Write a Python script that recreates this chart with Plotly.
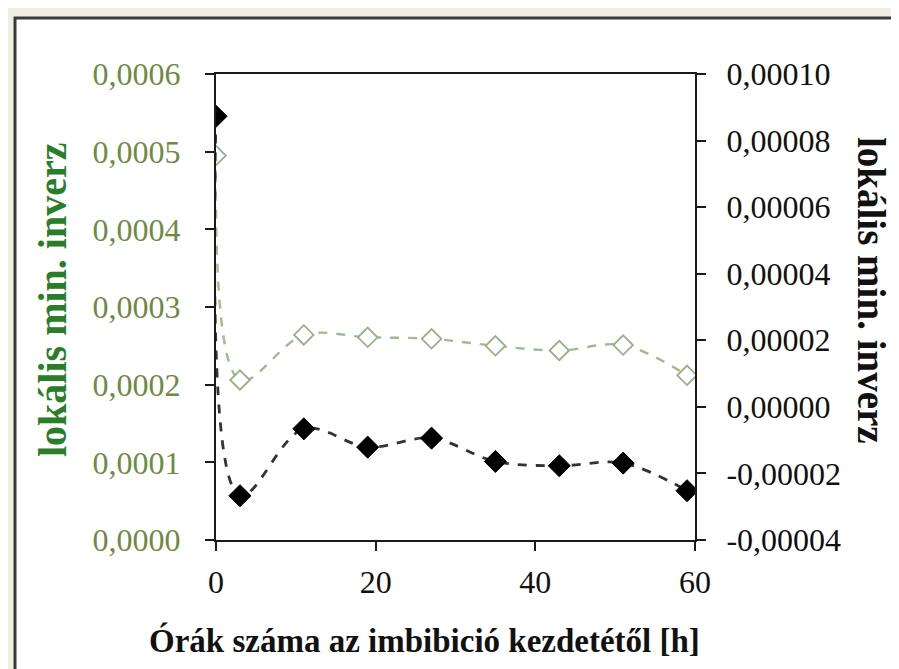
import plotly.graph_objects as go

hours = [0, 3, 11, 19, 27, 35, 43, 51, 59]
green_vals = [0.000495, 0.000206, 0.000264, 0.000261, 0.000259, 0.000250, 0.000244, 0.000251, 0.000212]
black_vals = [0.0000873, -0.0000267, -0.0000066, -0.0000121, -0.0000094, -0.0000164, -0.0000177, -0.0000169, -0.0000252]

x_ticks = [0, 20, 40, 60]
left_ticks = [0.0, 0.0001, 0.0002, 0.0003, 0.0004, 0.0005, 0.0006]
left_labels = ["0,0000", "0,0001", "0,0002", "0,0003", "0,0004", "0,0005", "0,0006"]
right_ticks = [-0.00004, -0.00002, 0.0, 0.00002, 0.00004, 0.00006, 0.00008, 0.00010]
right_labels = ["-0,00004", "-0,00002", "0,00000", "0,00002", "0,00004", "0,00006", "0,00008", "0,00010"]

x_title = "Órák száma az imbibició kezdetétől [h]"
y_title = "lokális min. inverz"

FONT = "Liberation Serif"

fig = go.Figure()
fig.add_trace(go.Scatter(
    x=hours, y=green_vals, mode="lines+markers", yaxis="y",
    line=dict(color="#a3b894", width=2.4, dash="dash", shape="spline", smoothing=1),
    marker=dict(symbol="diamond", size=15, color="white", line=dict(color="#98b088", width=1.8)),
    showlegend=False,
))
fig.add_trace(go.Scatter(
    x=hours, y=black_vals, mode="lines+markers", yaxis="y2",
    line=dict(color="#333333", width=2.8, dash="dash", shape="spline", smoothing=1),
    marker=dict(symbol="diamond", size=17, color="black", line=dict(color="black", width=1)),
    showlegend=False,
))

L, R, T, B = 208, 212, 66, 137
W, H = 899, 669
pw, ph = W - L - R, H - T - B

def px(x):
    return (x - L) / pw

def py(y):
    return (H - B - y) / ph

fig.update_layout(
    width=W, height=H,
    margin=dict(l=L, r=R, t=T, b=B, pad=0),
    paper_bgcolor="#f0eee2",
    plot_bgcolor="rgba(0,0,0,0)",
    font=dict(family=FONT, size=32, color="black"),
    xaxis=dict(
        range=[0, 60], tickvals=x_ticks, ticktext=[str(v) for v in x_ticks],
        showline=True, linecolor="#1a1a1a", linewidth=2, mirror=True,
        ticks="outside", ticklen=9, tickwidth=2, tickcolor="#1a1a1a",
        showgrid=False, zeroline=False, ticklabelstandoff=4,
        tickfont=dict(family=FONT, size=32, color="#111111"),
    ),
    yaxis=dict(
        range=[0, 0.0006], tickvals=left_ticks, ticktext=left_labels,
        showline=True, linecolor="#1a1a1a", linewidth=2,
        ticks="outside", ticklen=9, tickwidth=2, tickcolor="#1a1a1a",
        showgrid=False, zeroline=False, ticklabelstandoff=18,
        tickfont=dict(family=FONT, size=32, color="#6f8a45"),
    ),
    yaxis2=dict(
        range=[-0.00004, 0.0001], tickvals=right_ticks, ticktext=right_labels,
        overlaying="y", side="right", anchor="x",
        showline=True, linecolor="#1a1a1a", linewidth=2,
        ticks="outside", ticklen=9, tickwidth=2, tickcolor="#1a1a1a",
        showgrid=False, zeroline=False, ticklabelstandoff=14,
        tickfont=dict(family=FONT, size=32, color="#111111"),
    ),
    shapes=[dict(
        type="rect", xref="paper", yref="paper", layer="below",
        x0=px(7), x1=px(891), y0=py(685), y1=py(10),
        fillcolor="white", line=dict(color="#3a3a3a", width=3),
    )],
    annotations=[
        dict(text="<b>" + y_title + "</b>", xref="paper", yref="paper",
             x=px(44), y=py(292), textangle=-90, showarrow=False,
             font=dict(family=FONT, size=40, color="#2a7d2a"),
             xanchor="center", yanchor="middle"),
        dict(text="<b>" + y_title + "</b>", xref="paper", yref="paper",
             x=px(864), y=py(282), textangle=90, showarrow=False,
             font=dict(family=FONT, size=39, color="#111111"),
             xanchor="center", yanchor="middle"),
        dict(text="<b>" + x_title + "</b>", xref="paper", yref="paper",
             x=px(416), y=py(632), showarrow=False,
             font=dict(family=FONT, size=33, color="#111111"),
             xanchor="center", yanchor="middle"),
    ],
)

fig.write_html("out.html")
